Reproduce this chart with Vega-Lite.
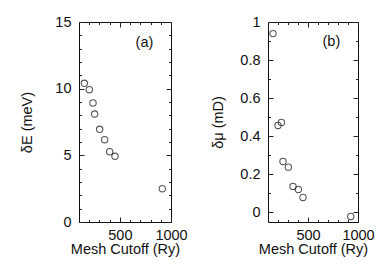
{
  "$schema": "https://vega.github.io/schema/vega-lite/v6.json",
  "padding": {"left": 19, "top": 13, "right": 5, "bottom": 5},
  "bounds": "flush",
  "spacing": 97,
  "config": {
    "font": "Liberation Sans",
    "view": {"stroke": "#111", "strokeWidth": 1},
    "axis": {"grid": false, "domain": false, "ticks": true, "tickColor": "#222", "tickWidth": 1, "labelFlush": false,
      "labelFont": "Liberation Sans", "labelFontSize": 14.5, "labelColor": "#111",
      "titleFont": "Liberation Sans", "titleFontSize": 14.5, "titleFontWeight": "normal", "titleColor": "#111"}
  },
  "datasets": {
    "a": [
      {"cutoff": 152, "v": 10.4},
      {"cutoff": 201, "v": 9.92},
      {"cutoff": 237, "v": 8.93},
      {"cutoff": 253, "v": 8.1},
      {"cutoff": 302, "v": 6.95},
      {"cutoff": 351, "v": 6.17},
      {"cutoff": 400, "v": 5.27},
      {"cutoff": 452, "v": 4.93},
      {"cutoff": 915, "v": 2.5}
    ],
    "b": [
      {"cutoff": 150, "v": 0.939},
      {"cutoff": 200, "v": 0.457},
      {"cutoff": 234, "v": 0.473},
      {"cutoff": 250, "v": 0.268},
      {"cutoff": 304, "v": 0.238},
      {"cutoff": 350, "v": 0.137},
      {"cutoff": 404, "v": 0.121},
      {"cutoff": 450, "v": 0.079},
      {"cutoff": 927, "v": -0.021}
    ],
    "labA": [{"t": "(a)", "x": 740, "y": 13.4}],
    "labB": [{"t": "(b)", "x": 734, "y": 0.893}]
  },
  "hconcat": [
    {
      "width": 92, "height": 200,
      "data": {"name": "a"},
      "resolve": {"axis": {"x": "independent", "y": "independent"}},
      "layer": [
        {
          "mark": {"type": "point", "shape": "circle", "filled": false, "size": 40, "stroke": "#111", "strokeWidth": 1.1},
          "encoding": {
            "x": {"field": "cutoff", "type": "quantitative", "scale": {"domain": [100, 1000], "nice": false, "zero": false},
              "axis": {"orient": "bottom", "values": [500, 1000], "format": "d", "offset": -5, "tickSize": 5, "labelPadding": 6, "title": "Mesh Cutoff (Ry)", "titlePadding": 1}},
            "y": {"field": "v", "type": "quantitative", "scale": {"domain": [0, 15], "nice": false, "zero": false},
              "axis": {"orient": "left", "values": [0, 5, 10, 15], "format": "d", "offset": -5, "tickSize": 5, "labelPadding": 8, "title": "δE (meV)", "titlePadding": 20}}
          }
        },
        {
          "mark": {"type": "point", "opacity": 0},
          "encoding": {
            "x": {"field": "cutoff", "type": "quantitative", "axis": {"orient": "top", "values": [500, 1000], "offset": -5, "tickSize": 5, "labels": false, "title": null}},
            "y": {"field": "v", "type": "quantitative", "axis": {"orient": "right", "values": [0, 5, 10, 15], "offset": -5, "tickSize": 5, "labels": false, "title": null}}
          }
        },
        {
          "mark": {"type": "point", "opacity": 0},
          "encoding": {
            "x": {"field": "cutoff", "type": "quantitative", "axis": {"orient": "bottom", "values": [200, 300, 400, 600, 700, 800, 900], "offset": -2.5, "tickSize": 2.5, "labels": false, "title": null}},
            "y": {"field": "v", "type": "quantitative", "axis": {"orient": "left", "values": [1, 2, 3, 4, 6, 7, 8, 9, 11, 12, 13, 14], "offset": -2.5, "tickSize": 2.5, "labels": false, "title": null}}
          }
        },
        {
          "mark": {"type": "point", "opacity": 0},
          "encoding": {
            "x": {"field": "cutoff", "type": "quantitative", "axis": {"orient": "top", "values": [200, 300, 400, 600, 700, 800, 900], "offset": -2.5, "tickSize": 2.5, "labels": false, "title": null}},
            "y": {"field": "v", "type": "quantitative", "axis": {"orient": "right", "values": [1, 2, 3, 4, 6, 7, 8, 9, 11, 12, 13, 14], "offset": -2.5, "tickSize": 2.5, "labels": false, "title": null}}
          }
        },
        {
          "data": {"name": "labA"},
          "mark": {"type": "text", "fontSize": 14.5, "color": "#111", "align": "center", "baseline": "middle"},
          "encoding": {
            "x": {"field": "x", "type": "quantitative", "axis": null},
            "y": {"field": "y", "type": "quantitative", "axis": null},
            "text": {"field": "t"}
          }
        }
      ]
    },
    {
      "width": 90, "height": 200,
      "data": {"name": "b"},
      "resolve": {"axis": {"x": "independent", "y": "independent"}},
      "layer": [
        {
          "mark": {"type": "point", "shape": "circle", "filled": false, "size": 40, "stroke": "#111", "strokeWidth": 1.1},
          "encoding": {
            "x": {"field": "cutoff", "type": "quantitative", "scale": {"domain": [100, 1000], "nice": false, "zero": false},
              "axis": {"orient": "bottom", "values": [500, 1000], "format": "d", "offset": -5, "tickSize": 5, "labelPadding": 6, "title": "Mesh Cutoff (Ry)", "titlePadding": 1}},
            "y": {"field": "v", "type": "quantitative", "scale": {"domain": [-0.05, 1], "nice": false, "zero": false},
              "axis": {"orient": "left", "values": [0, 0.2, 0.4, 0.6, 0.8, 1], "format": "~g", "offset": -5, "tickSize": 5, "labelPadding": 8, "title": "δμ (mD)", "titlePadding": 14}}
          }
        },
        {
          "mark": {"type": "point", "opacity": 0},
          "encoding": {
            "x": {"field": "cutoff", "type": "quantitative", "axis": {"orient": "top", "values": [500, 1000], "offset": -5, "tickSize": 5, "labels": false, "title": null}},
            "y": {"field": "v", "type": "quantitative", "axis": {"orient": "right", "values": [0, 0.2, 0.4, 0.6, 0.8, 1], "offset": -5, "tickSize": 5, "labels": false, "title": null}}
          }
        },
        {
          "mark": {"type": "point", "opacity": 0},
          "encoding": {
            "x": {"field": "cutoff", "type": "quantitative", "axis": {"orient": "bottom", "values": [200, 300, 400, 600, 700, 800, 900], "offset": -2.5, "tickSize": 2.5, "labels": false, "title": null}},
            "y": {"field": "v", "type": "quantitative", "axis": {"orient": "left", "values": [0.1, 0.3, 0.5, 0.7, 0.9], "offset": -2.5, "tickSize": 2.5, "labels": false, "title": null}}
          }
        },
        {
          "mark": {"type": "point", "opacity": 0},
          "encoding": {
            "x": {"field": "cutoff", "type": "quantitative", "axis": {"orient": "top", "values": [200, 300, 400, 600, 700, 800, 900], "offset": -2.5, "tickSize": 2.5, "labels": false, "title": null}},
            "y": {"field": "v", "type": "quantitative", "axis": {"orient": "right", "values": [0.1, 0.3, 0.5, 0.7, 0.9], "offset": -2.5, "tickSize": 2.5, "labels": false, "title": null}}
          }
        },
        {
          "data": {"name": "labB"},
          "mark": {"type": "text", "fontSize": 14.5, "color": "#111", "align": "center", "baseline": "middle"},
          "encoding": {
            "x": {"field": "x", "type": "quantitative", "axis": null},
            "y": {"field": "y", "type": "quantitative", "axis": null},
            "text": {"field": "t"}
          }
        }
      ]
    }
  ]
}
